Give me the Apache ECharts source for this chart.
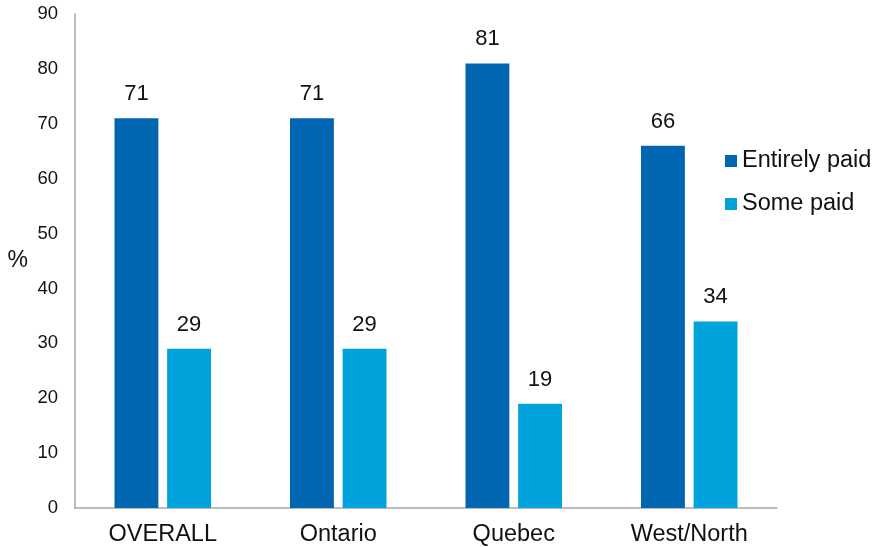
<!DOCTYPE html>
<html>
<head>
<meta charset="utf-8">
<script src="https://cdn.jsdelivr.net/npm/echarts@6/dist/echarts.min.js"></script>
<style>
  html, body { margin: 0; padding: 0; background: #ffffff; }
  #chart { width: 881px; height: 547px; }
</style>
</head>
<body>
<div id="chart"></div>
<script>
// Regions and share of respondents (%)
const regions = ['OVERALL', 'Ontario', 'Quebec', 'West/North'];
const entirelyPaid = [71, 71, 81, 66];
const somePaid = [29, 29, 19, 34];
const yTicks = { min: 0, max: 90, interval: 10 };

const FONT = '"Liberation Sans", Arial, sans-serif';
const chart = echarts.init(document.getElementById('chart'));

const barLabel = {
  show: true,
  position: 'top',
  distance: 13,
  color: '#111111',
  fontSize: 22,
  fontFamily: FONT
};

chart.setOption({
  animation: false,
  backgroundColor: '#ffffff',
  grid: { left: 75, right: 104, top: 14, bottom: 39, containLabel: false },
  legend: {
    orient: 'vertical',
    left: 720,
    top: 144,
    itemWidth: 12,
    itemHeight: 12,
    itemGap: 19,
    icon: 'rect',
    textStyle: { fontSize: 23.5, color: '#111111', fontFamily: FONT },
    data: ['Entirely paid', 'Some paid']
  },
  xAxis: {
    type: 'category',
    data: regions,
    axisLine: { lineStyle: { color: '#a6a6a6', width: 1.5 } },
    axisTick: { show: false },
    axisLabel: { fontSize: 23.5, color: '#111111', fontFamily: FONT, margin: 15 }
  },
  yAxis: {
    type: 'value',
    min: yTicks.min,
    max: yTicks.max,
    interval: yTicks.interval,
    name: '%',
    nameLocation: 'middle',
    nameRotate: 0,
    nameGap: 47,
    nameTextStyle: { fontSize: 23, color: '#111111', fontFamily: FONT, padding: [4, 0, 0, 0] },
    axisLine: { show: true, lineStyle: { color: '#a6a6a6', width: 1.5 } },
    axisTick: { show: false },
    splitLine: { show: false },
    axisLabel: { fontSize: 18.5, color: '#111111', fontFamily: FONT, margin: 17 }
  },
  series: [
    {
      name: 'Entirely paid',
      type: 'bar',
      data: entirelyPaid,
      barWidth: '25%',
      barGap: '20%',
      itemStyle: { color: '#0066B1' },
      label: barLabel
    },
    {
      name: 'Some paid',
      type: 'bar',
      data: somePaid,
      barWidth: '25%',
      barGap: '20%',
      itemStyle: { color: '#00A3DC' },
      label: barLabel
    }
  ]
});
</script>
</body>
</html>
